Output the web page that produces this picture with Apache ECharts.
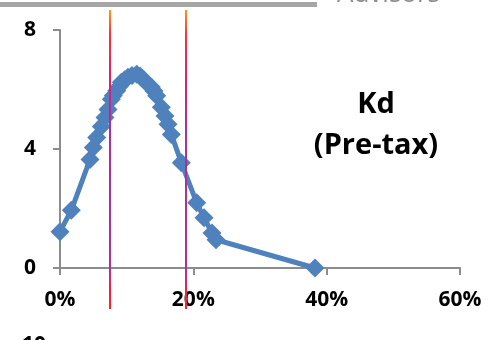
<!DOCTYPE html>
<html>
<head>
<meta charset="utf-8">
<script src="https://cdn.jsdelivr.net/npm/echarts@6/dist/echarts.min.js"></script>
<style>html,body{margin:0;padding:0;background:#fff}#c{width:500px;height:340px}</style>
</head>
<body>
<div id="c"></div>
<script>
// Kd (pre-tax) distribution: x = rate (%), y = frequency
const kdX = [0.0, 1.7, 4.5, 5.0, 5.5, 6.2, 6.75, 7.2, 7.7, 8.0, 8.5, 8.9, 9.2, 9.7, 10.2, 10.8, 11.5, 12.0, 12.45, 13.0, 13.7, 14.1, 14.5, 15.2, 15.75, 16.2, 16.7, 18.2, 20.5, 21.6, 22.8, 23.4, 38.25];
const kdY = [1.22, 1.94, 3.65, 4.05, 4.39, 4.76, 5.06, 5.33, 5.67, 5.8, 5.96, 6.1, 6.24, 6.33, 6.41, 6.47, 6.51, 6.45, 6.35, 6.22, 6.08, 5.95, 5.79, 5.4, 5.11, 4.83, 4.49, 3.54, 2.19, 1.69, 1.18, 0.95, 0.0];
const markerX = [7.5, 18.9];
const xTicks = [0, 20, 40, 60];
const yTicks = [0, 4, 8];

const chart = echarts.init(document.getElementById('c'), null, {renderer: 'canvas'});
const pts = kdX.map((x, i) => [x, kdY[i]]);
const lineGrad = new echarts.graphic.LinearGradient(0, 10, 0, 310, [
  {offset: 0, color: '#FF9A1A'},
  {offset: 0.08, color: '#FF3038'},
  {offset: 0.22, color: '#E0206A'},
  {offset: 0.4, color: '#A8309E'},
  {offset: 0.86, color: '#B0309A'},
  {offset: 0.93, color: '#F02048'},
  {offset: 1, color: '#FF2030'}
], true);
const markerSeries = markerX.map(x => ({
  type: 'line', xAxisIndex: 1, yAxisIndex: 1, z: 5,
  data: [[x, 0], [x, 1]], symbol: 'none', silent: true,
  lineStyle: {width: 2, color: lineGrad}
}));
chart.setOption({
  animation: false,
  grid: [
    {left: 60, right: 40, top: 30, bottom: 72},
    {left: 60, right: 40, top: 10, bottom: 31}
  ],
  xAxis: [{
    type: 'value', min: xTicks[0], max: xTicks[xTicks.length - 1], interval: 20,
    axisLine: {show: true, lineStyle: {color: '#8C8C8C', width: 2}},
    axisTick: {show: true, length: 7, lineStyle: {color: '#8C8C8C', width: 2}},
    splitLine: {show: false},
    axisLabel: {formatter: v => v + '%', fontFamily: 'Open Sans', fontWeight: 'bold', fontSize: 21, color: '#000', margin: 22}
  }, {
    type: 'value', gridIndex: 1, min: 0, max: 60, show: false
  }],
  yAxis: [{
    type: 'value', min: yTicks[0], max: yTicks[yTicks.length - 1], interval: 4,
    axisLine: {show: true, lineStyle: {color: '#8C8C8C', width: 2}},
    axisTick: {show: true, length: 7, lineStyle: {color: '#8C8C8C', width: 2}},
    splitLine: {show: false},
    axisLabel: {fontFamily: 'Open Sans', fontWeight: 'bold', fontSize: 21, color: '#000', margin: 24}
  }, {
    type: 'value', gridIndex: 1, min: 0, max: 1, show: false
  }],
  series: [{
    type: 'line', data: pts, z: 3,
    symbol: 'diamond', symbolSize: 19,
    itemStyle: {color: '#4F81BD'},
    lineStyle: {color: '#4F81BD', width: 5}
  }].concat(markerSeries),
  graphic: [
    {type: 'rect', shape: {x: 0, y: 2, width: 317, height: 5}, style: {fill: '#A6A6A6'}},
    {type: 'text', x: 337, y: -5, style: {text: 'Advisors', font: '26px "Open Sans"', fill: '#8C8C8C', verticalAlign: 'middle'}},
    {type: 'text', x: 376, y: 125, style: {text: 'Kd\n(Pre-tax)', font: 'bold 29px "Open Sans"', lineHeight: 41, fill: '#000', align: 'center', verticalAlign: 'middle'}},
    {type: 'text', x: 22, y: 335, style: {text: '10', font: 'bold 21px "Open Sans"', fill: '#000', verticalAlign: 'top'}}
  ]
});
</script>
</body>
</html>
